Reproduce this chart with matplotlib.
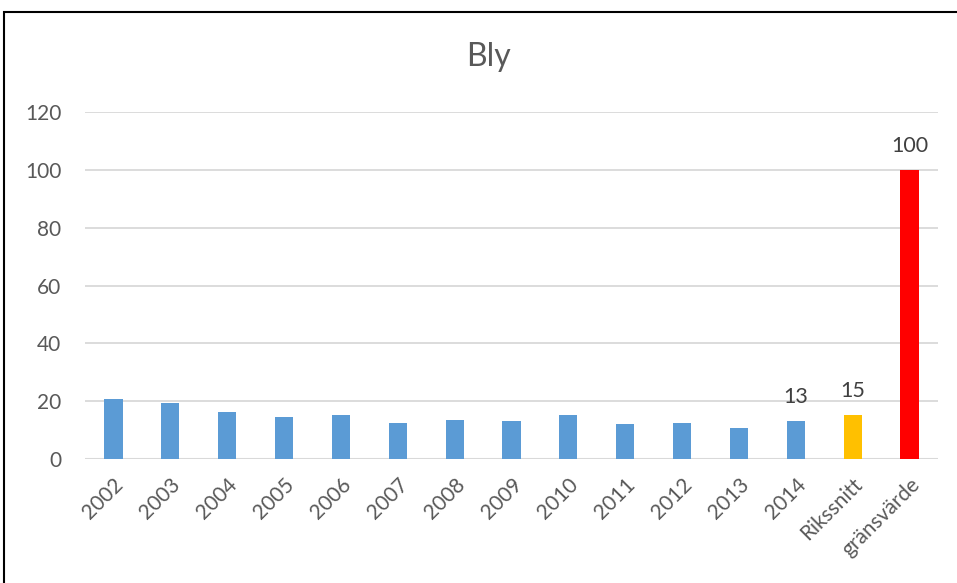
import matplotlib.pyplot as plt
from matplotlib.patches import Rectangle

# categories and values
categories = ['2002', '2003', '2004', '2005', '2006', '2007', '2008', '2009',
              '2010', '2011', '2012', '2013', '2014', 'Rikssnitt', 'gränsvärde']
values = [20.9, 19.2, 16.4, 14.4, 15.3, 12.4, 13.4, 13.2,
          15.3, 12.2, 12.5, 10.7, 13.1, 15.2, 100]
labels = {12: '13', 13: '15', 14: '100'}
yticks = [0, 20, 40, 60, 80, 100, 120]

blue = '#5b9bd5'
colors = [blue] * 13 + ['#ffc000', '#ff0000']
text_col = '#595959'

plt.rcParams['font.family'] = ['Lato', 'DejaVu Sans']

fig = plt.figure(figsize=(9.57, 5.83), dpi=100)
ax = fig.add_axes([85 / 957, 1 - 459 / 583, 853 / 957, 347 / 583])

x = list(range(len(categories)))
ax.bar(x, values, width=0.32, color=colors, zorder=3)

for i, txt in labels.items():
    ax.annotate(txt, (i, values[i]), xytext=(0, 10), textcoords='offset points',
                ha='center', va='bottom', fontsize=15.5, color='#404040')

ax.set_xlim(-0.5, len(categories) - 0.5)
ax.set_ylim(0, 120)
ax.set_yticks(yticks)
ax.yaxis.grid(True, color='#d9d9d9', linewidth=1.3, zorder=0)
ax.set_axisbelow(True)
for s in ax.spines.values():
    s.set_visible(False)
ax.axhline(0, color='#d9d9d9', linewidth=1.5, zorder=2)
ax.tick_params(axis='both', length=0, labelsize=15, labelcolor=text_col)
ax.tick_params(axis='y', pad=17)
ax.set_xticks(x)
ax.set_xticklabels(categories, rotation=45, ha='right', rotation_mode='anchor')
ax.tick_params(axis='x', pad=11)

fig.text(488 / 957, 1 - 57 / 583, 'Bly', ha='center', va='center',
         fontsize=23, color=text_col)

# black frame round the chart, cut off at right and bottom like the reference
fig.patches.append(Rectangle((4 / 957, -0.05), 1.2, 1 - 12 / 583 + 0.05,
                             transform=fig.transFigure, fill=False,
                             edgecolor='black', linewidth=1.5))

fig.savefig('out.png', dpi=100)
